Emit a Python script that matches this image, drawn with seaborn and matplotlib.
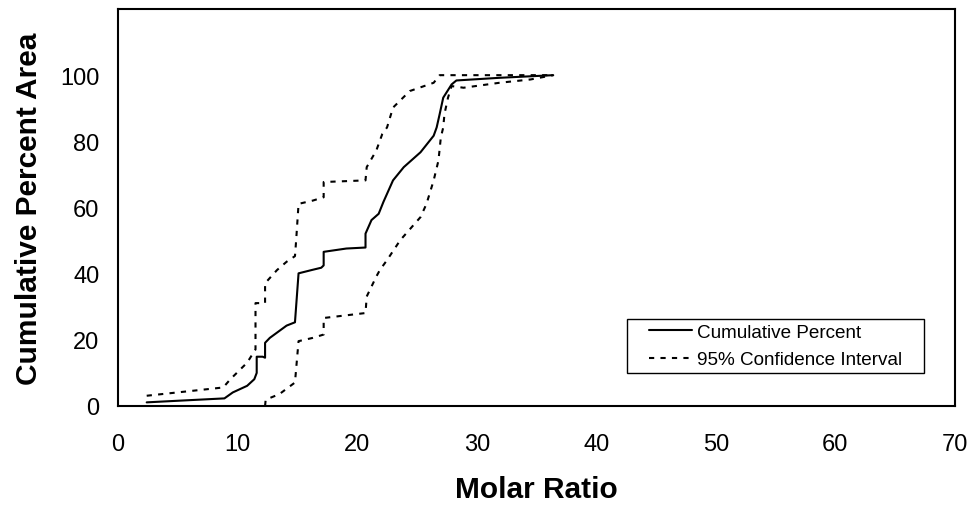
import matplotlib
matplotlib.use("Agg")
import matplotlib.pyplot as plt
from matplotlib.path import Path
import seaborn as sns
import pandas as pd

# cumulative percent area vs molar ratio
cum_x = [2.4, 4.0, 8.9, 9.6, 10.8, 11.4, 11.6, 11.6, 12.1, 12.3, 12.3, 12.7, 14.1, 14.8,
         15.1, 16.2, 17.0, 17.2, 17.2, 19.1, 20.7, 20.7, 21.2, 21.8, 22.2, 23.0, 23.9,
         25.3, 26.4, 26.65, 26.9, 27.2, 27.9, 28.3, 31.9, 36.4]
cum_y = [1.1, 1.4, 2.3, 4.1, 6.1, 8.1, 10.0, 14.9, 14.9, 14.6, 19.1, 20.6, 24.3, 25.3,
         40.1, 41.1, 41.8, 42.5, 46.6, 47.6, 47.9, 52.1, 56.2, 58.1, 61.7, 68.2, 72.2,
         76.7, 81.7, 84.2, 88.2, 93.2, 97.2, 98.4, 99.2, 100.0]

# upper 95% bound
up_x = [2.4, 8.8, 9.4, 10.8, 11.5, 11.5, 12.3, 12.3, 13.3, 14.1, 14.8, 14.9, 15.1, 16.3,
        17.2, 17.2, 20.7, 20.8, 21.6, 22.1, 22.5, 23.0, 24.4, 26.4, 26.9, 36.4]
up_y = [3.1, 5.6, 8.1, 13.1, 17.1, 31.1, 31.1, 37.1, 41.1, 43.6, 45.3, 50.1, 61.1, 62.1,
        63.1, 67.7, 68.2, 72.2, 77.2, 82.2, 84.2, 90.2, 95.2, 97.7, 100.0, 100.0]

# lower 95% bound
lo_x = [12.3, 12.35, 13.5, 14.8, 15.1, 16.3, 17.2, 17.2, 20.7, 20.8, 21.6, 21.9, 22.5,
        23.6, 25.3, 25.8, 26.4, 26.8, 27.0, 27.2, 27.3, 27.6, 27.9, 28.9, 31.9, 34.5, 36.4]
lo_y = [0.0, 1.9, 3.6, 7.1, 19.6, 20.6, 21.6, 26.6, 28.1, 33.1, 39.1, 41.1, 44.1,
        50.1, 57.1, 61.1, 68.2, 74.2, 81.2, 84.2, 88.2, 93.2, 96.7, 96.2, 97.7, 98.7, 100.0]

x_ticks = [0, 10, 20, 30, 40, 50, 60, 70]
y_ticks = [0, 20, 40, 60, 80, 100]


def wide_box(x0, y0, width, height, mutation_size):
    # legend frame with extra room left and right, like the excel one
    p = 17
    return Path([(x0 - p, y0), (x0 + width + p, y0), (x0 + width + p, y0 + height),
                 (x0 - p, y0 + height), (x0 - p, y0)], closed=True)


def draw_figure():
    sns.set_theme(style="white")
    plt.rcParams['font.family'] = ['Liberation Sans', 'DejaVu Sans']
    plt.rcParams['text.color'] = 'black'
    plt.rcParams['axes.labelcolor'] = 'black'

    fig = plt.figure(figsize=(9.71, 5.06), dpi=100)
    ax = fig.add_axes([118 / 971, 1 - 407 / 506, 837 / 971, 397 / 506])

    df_cum = pd.DataFrame({'ratio': cum_x, 'pct': cum_y})
    df_up = pd.DataFrame({'ratio': up_x, 'pct': up_y})
    df_lo = pd.DataFrame({'ratio': lo_x, 'pct': lo_y})

    dots = (0, (2.5, 3))
    sns.lineplot(data=df_cum, x='ratio', y='pct', sort=False, estimator=None,
                 color='black', lw=1.5, label='Cumulative Percent', ax=ax)
    sns.lineplot(data=df_up, x='ratio', y='pct', sort=False, estimator=None,
                 color='black', lw=1.5, ls=dots, label='95% Confidence Interval', ax=ax)
    sns.lineplot(data=df_lo, x='ratio', y='pct', sort=False, estimator=None,
                 color='black', lw=1.5, ls=dots, label='_nolegend_', ax=ax)

    ax.set_xlim(0, 70)
    ax.set_ylim(0, 120)
    ax.set_xticks(x_ticks)
    ax.set_yticks(y_ticks)
    ax.set_xlabel('Molar Ratio', fontsize=21.5, fontweight='bold', labelpad=14,
                  color='black')
    ax.set_ylabel('Cumulative Percent Area', fontsize=21.5, fontweight='bold',
                  labelpad=12, color='black')
    ax.tick_params(axis='both', which='major', direction='out', length=5.5, width=1,
                   color='black', labelsize=17, labelcolor='black')
    ax.tick_params(axis='x', pad=14)
    ax.tick_params(axis='y', pad=8)
    for s in ax.spines.values():
        s.set_visible(True)
        s.set_color('black')
        s.set_linewidth(1.5)

    leg = ax.legend(loc='lower right', bbox_to_anchor=(0.9427, 0.0831), borderaxespad=0,
                    fontsize=13.6, frameon=True, fancybox=False, borderpad=0.25,
                    labelspacing=0.54, handlelength=2.27, handletextpad=0.27,
                    framealpha=1)
    frame = leg.get_frame()
    frame.set_edgecolor('black')
    frame.set_linewidth(1.0)
    frame.set_boxstyle(wide_box)

    fig.savefig('out.png', dpi=100)
    plt.close(fig)


draw_figure()
